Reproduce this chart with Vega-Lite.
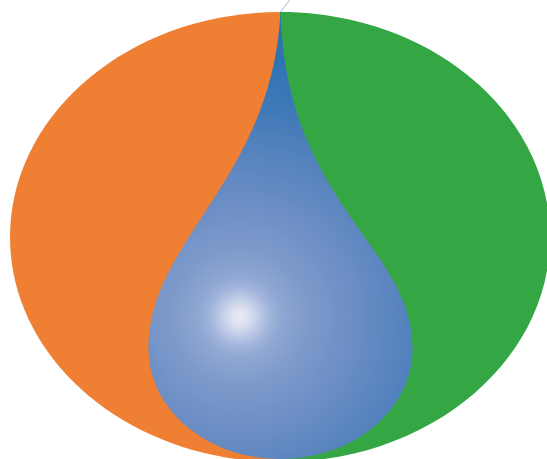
{
  "$schema": "https://vega.github.io/schema/vega-lite/v6.json",
  "width": 547,
  "height": 459,
  "autosize": "none",
  "padding": 0,
  "background": "white",
  "view": {"stroke": null},
  "data": {
    "values": [
      {"part": "Orange", "share": 50},
      {"part": "Green", "share": 50},
      {"part": "Drop"},
      {"part": "Leader"}
    ]
  },
  "layer": [
    {
      "transform": [{"filter": "datum.part === 'Orange' || datum.part === 'Green'"}],
      "mark": {"type": "point", "filled": true, "opacity": 1, "size": 4, "strokeWidth": 0},
      "encoding": {
        "shape": {
          "field": "part",
          "type": "nominal",
          "scale": {
            "domain": ["Orange", "Green"],
            "range": [
              "M6.5,-217.5 A270,225 0 0 0 -263.5,7.5 A270,225 0 0 0 6.5,232.5 Z",
              "M6.5,-217.5 A270,225 0 0 1 276.5,7.5 A270,225 0 0 1 6.5,232.5 Z"
            ]
          },
          "legend": null
        },
        "color": {
          "field": "part",
          "type": "nominal",
          "scale": {"domain": ["Orange", "Green"], "range": ["#ef8033", "#34a644"]},
          "legend": null
        }
      }
    },
    {
      "transform": [{"filter": "datum.part === 'Drop'"}],
      "mark": {
        "type": "point",
        "filled": true,
        "opacity": 1,
        "size": 4,
        "strokeWidth": 0,
        "shape": "M7,-217.5 C-1.5,-49.5 -125.5,10.5 -125,119.5 A132,110 0 0 0 7,229.5 A132,110 0 0 0 139,119.5 C139,15.5 12.5,-24.5 7,-217.5 Z",
        "fill": {
          "gradient": "radial",
          "x1": 0.409, "y1": 0.682, "r1": 0,
          "x2": 0.409, "y2": 0.682, "r2": 0.694,
          "stops": [
            {"offset": 0, "color": "#e8ebf6"},
            {"offset": 0.03, "color": "#dbe0f1"},
            {"offset": 0.06, "color": "#c0cce7"},
            {"offset": 0.095, "color": "#a2b5db"},
            {"offset": 0.135, "color": "#8ea6d2"},
            {"offset": 0.22, "color": "#7e9acb"},
            {"offset": 0.38, "color": "#6a8dc4"},
            {"offset": 0.53, "color": "#5683be"},
            {"offset": 0.68, "color": "#3f79b7"},
            {"offset": 0.84, "color": "#2f73b3"},
            {"offset": 1, "color": "#2a70b0"}
          ]
        }
      },
      "encoding": {}
    },
    {
      "transform": [{"filter": "datum.part === 'Leader'"}],
      "mark": {
        "type": "point",
        "filled": false,
        "opacity": 1,
        "size": 4,
        "shape": "M7,-217.5 L18,-232",
        "stroke": "#a3b8d3",
        "strokeWidth": 1
      },
      "encoding": {}
    }
  ]
}
